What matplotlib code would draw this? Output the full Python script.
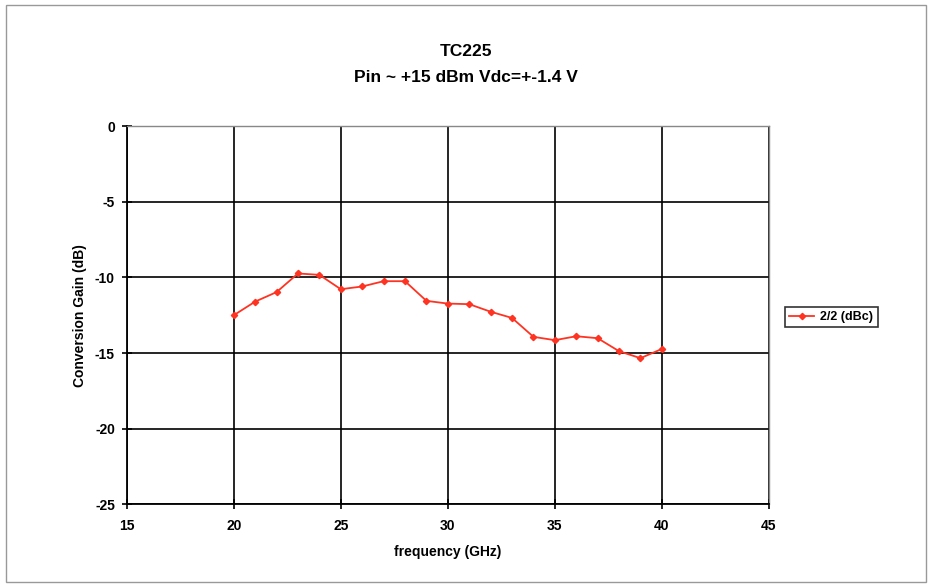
import numpy as np
import matplotlib.pyplot as plt
from matplotlib.patches import Rectangle

plt.rcParams['font.family'] = ['Liberation Sans', 'DejaVu Sans']
plt.rcParams['font.weight'] = 'bold'
plt.rcParams['axes.unicode_minus'] = False

freq = [20, 21, 22, 23, 24, 25, 26, 27, 28, 29, 30, 31, 32, 33, 34, 35, 36, 37, 38, 39, 40]
gain = [-12.5, -11.6, -10.97, -9.74, -9.83, -10.78, -10.6, -10.25, -10.25, -11.55, -11.73,
        -11.77, -12.27, -12.68, -13.93, -14.15, -13.89, -14.02, -14.88, -15.34, -14.73]
series_label = '2/2 (dBc)'

fig = plt.figure(figsize=(9.32, 5.87), dpi=100)
ax = fig.add_axes([0.136, 0.141, 0.689, 0.644])

ax.plot(freq, gain, color='#ff3322', marker='D', markersize=3.2, linewidth=1.3, label=series_label)

ax.set_xlim(15, 45)
ax.set_ylim(-25, 0)
ax.set_xticks(np.arange(15, 46, 5))
ax.set_yticks(np.arange(-25, 1, 5))
ax.grid(True, color='black', linewidth=1.2)
ax.tick_params(direction='inout', length=7, width=1.2, labelsize=10)
ax.tick_params(axis='x', pad=7)
ax.tick_params(axis='y', pad=5)
for side in ['left', 'bottom']:
    ax.spines[side].set_color('black')
    ax.spines[side].set_linewidth(1.3)
for side in ['top', 'right']:
    ax.spines[side].set_color('#888888')
    ax.spines[side].set_linewidth(1)

ax.set_xlabel('frequency (GHz)', fontsize=10, fontweight='bold', labelpad=9)
ax.set_ylabel('Conversion Gain (dB)', fontsize=10, fontweight='bold', labelpad=6)

fig.text(0.5, 0.913, 'TC225', ha='center', va='center', fontsize=12.5, fontweight='bold')
fig.text(0.5, 0.868, 'Pin ~ +15 dBm Vdc=+-1.4 V', ha='center', va='center', fontsize=12.5, fontweight='bold')

leg = fig.legend(loc='center', bbox_to_anchor=(0.892, 0.46), fontsize=9, frameon=True,
                 fancybox=False, edgecolor='black', handlelength=2.0, handletextpad=0.5,
                 borderpad=0.35)
leg.get_frame().set_linewidth(1.2)

fig.patches.append(Rectangle((0.006, 0.008), 0.988, 0.984, transform=fig.transFigure,
                             fill=False, edgecolor='#999999', linewidth=1))

fig.savefig('out.png', dpi=100)
